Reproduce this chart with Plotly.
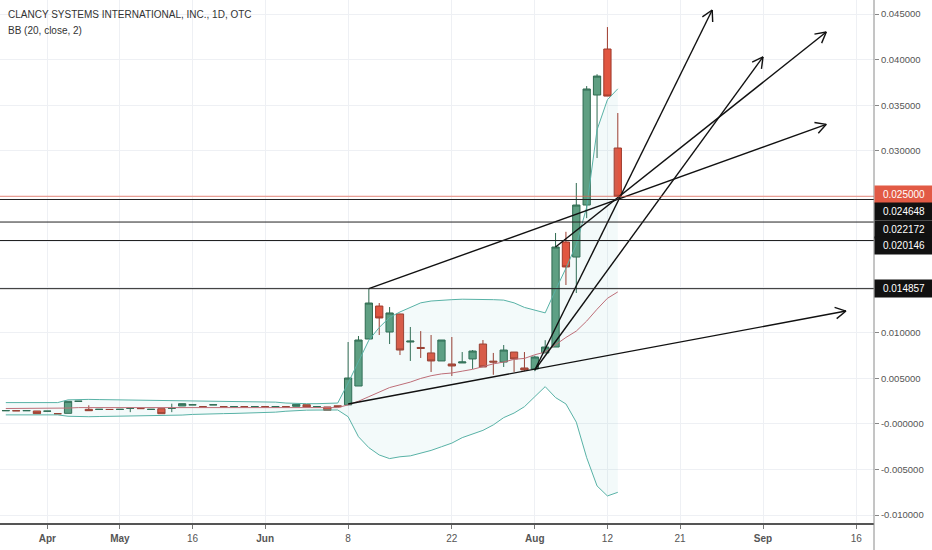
import numpy as np
import plotly.graph_objects as go

# CLANCY SYSTEMS (OTC), daily bars, Apr - Aug 13 2019; x is the bar index
bar_index = list(range(60))

opens = [
    0.00146, 0.00146, 0.00146, 0.00143, 0.00140, 0.00113, 0.00117, 0.00249, 0.00161, 0.00160,
    0.00160, 0.00160, 0.00170, 0.00170, 0.00160, 0.00168, 0.00170, 0.00198, 0.00210, 0.00190,
    0.00210, 0.00190, 0.00190, 0.00190, 0.00190, 0.00190, 0.00190, 0.00190, 0.00194, 0.00212,
    0.00190, 0.00187, 0.00200,
    0.00210, 0.00417, 0.00933, 0.01295, 0.01010, 0.01208, 0.00900, 0.00840, 0.00780,
    0.00692, 0.00659, 0.00670, 0.00714, 0.00878, 0.00690, 0.00680, 0.00790, 0.00615,
    0.00604, 0.00780, 0.00845, 0.01998, 0.01833, 0.02404, 0.03612, 0.04117, 0.03030]
highs = [
    0.00147, 0.00147, 0.00147, 0.00143, 0.00141, 0.00113, 0.00249, 0.00250, 0.00205, 0.00161,
    0.00161, 0.00161, 0.00171, 0.00171, 0.00161, 0.00168, 0.00223, 0.00223, 0.00211, 0.00190,
    0.00211, 0.00190, 0.00191, 0.00190, 0.00191, 0.00190, 0.00191, 0.00190, 0.00216, 0.00212,
    0.00191, 0.00187, 0.00200,
    0.00900, 0.00966, 0.014857, 0.01328, 0.01284, 0.01210, 0.01065, 0.01020, 0.00977,
    0.00922, 0.00955, 0.00790, 0.00812, 0.00922, 0.00780, 0.00867, 0.00790, 0.00790,
    0.00750, 0.00920, 0.02097, 0.02110, 0.02646, 0.03710, 0.03840, 0.04358, 0.03414]
lows = [
    0.00146, 0.00145, 0.00146, 0.00113, 0.00140, 0.00112, 0.00117, 0.00249, 0.00146, 0.00160,
    0.00159, 0.00160, 0.00130, 0.00169, 0.00160, 0.00113, 0.00130, 0.00198, 0.00210, 0.00189,
    0.00210, 0.00189, 0.00190, 0.00189, 0.00190, 0.00189, 0.00190, 0.00189, 0.00194, 0.00187,
    0.00190, 0.00150, 0.00190,
    0.00210, 0.00417, 0.00933, 0.00977, 0.00878, 0.00757, 0.00692, 0.00725, 0.00571,
    0.00692, 0.00527, 0.00670, 0.00604, 0.00626, 0.00540, 0.00626, 0.00571, 0.00580,
    0.00580, 0.00780, 0.00845, 0.01526, 0.01438, 0.02260, 0.02920, 0.03600, 0.02500]
closes = [
    0.00147, 0.00145, 0.00147, 0.00113, 0.00141, 0.00112, 0.00249, 0.00250, 0.00146, 0.00161,
    0.00159, 0.00161, 0.00171, 0.00169, 0.00161, 0.00113, 0.00171, 0.00223, 0.00211, 0.00189,
    0.00211, 0.00189, 0.00191, 0.00189, 0.00191, 0.00189, 0.00191, 0.00189, 0.00216, 0.00187,
    0.00191, 0.00150, 0.00190,
    0.00505, 0.00922, 0.01328, 0.01164, 0.01219, 0.00812, 0.00910, 0.00830, 0.00692,
    0.00922, 0.00637, 0.00681, 0.00801, 0.00626, 0.00680, 0.00812, 0.00714, 0.00593,
    0.00736, 0.00845, 0.01943, 0.01724, 0.02404, 0.03678, 0.03820, 0.03600, 0.02500]

# BB (20, close, 2)
bb_upper = [
    0.00235, 0.00235, 0.00235, 0.00235, 0.00235, 0.00235, 0.00265, 0.00270, 0.00270, 0.00268,
    0.00266, 0.00265, 0.00265, 0.00264, 0.00263, 0.00262, 0.00258, 0.00255, 0.00253, 0.00252,
    0.00252, 0.00251, 0.00250, 0.00248, 0.00246, 0.00244, 0.00240, 0.00230, 0.00224, 0.00223,
    0.00223, 0.00224, 0.00230,
    0.00450, 0.00680, 0.00920, 0.01060, 0.01170, 0.01230, 0.01280, 0.01330, 0.01350,
    0.01360, 0.01365, 0.01370, 0.01370, 0.01370, 0.01365, 0.01360, 0.01330, 0.01280,
    0.01250, 0.01220, 0.01470, 0.01710, 0.01970, 0.02380, 0.03230, 0.03560, 0.03680]
bb_basis = [
    0.00170, 0.00170, 0.00170, 0.00170, 0.00170, 0.00170, 0.00175, 0.00180, 0.00180, 0.00180,
    0.00180, 0.00180, 0.00180, 0.00180, 0.00180, 0.00178, 0.00178, 0.00180, 0.00182, 0.00182,
    0.00182, 0.00180, 0.00180, 0.00180, 0.00180, 0.00181, 0.00182, 0.00182, 0.00185, 0.00186,
    0.00186, 0.00184, 0.00180,
    0.00210, 0.00250, 0.00300, 0.00350, 0.00400, 0.00430, 0.00460, 0.00500, 0.00530,
    0.00550, 0.00560, 0.00580, 0.00600, 0.00630, 0.00660, 0.00680, 0.00710, 0.00720,
    0.00760, 0.00790, 0.00870, 0.00950, 0.01020, 0.01130, 0.01260, 0.01380, 0.01450]
bb_lower = [
    0.00100, 0.00100, 0.00100, 0.00100, 0.00100, 0.00100, 0.00085, 0.00080, 0.00080, 0.00082,
    0.00084, 0.00085, 0.00085, 0.00086, 0.00087, 0.00088, 0.00092, 0.00098, 0.00105, 0.00110,
    0.00112, 0.00114, 0.00116, 0.00118, 0.00120, 0.00124, 0.00130, 0.00140, 0.00150, 0.00152,
    0.00153, 0.00154, 0.00154,
    0.00080, -0.00140, -0.00260, -0.00340, -0.00380, -0.00360, -0.00350, -0.00320, -0.00290,
    -0.00250, -0.00210, -0.00150, -0.00110, -0.00070, -0.00010, 0.00070, 0.00120, 0.00190,
    0.00300, 0.00410, 0.00290, 0.00220, 0.00020, -0.00370, -0.00680, -0.00790, -0.00750]

# x axis labels (bar index where each date falls)
x_tick_pos = [4, 11, 18, 25, 33, 43, 51, 58, 65, 73, 82]
x_tick_labels = ["<b>Apr</b>", "<b>May</b>", "16", "<b>Jun</b>", "8", "22",
                 "<b>Aug</b>", "12", "21", "<b>Sep</b>", "16"]

y_tick_vals = [-0.010, -0.005, 0.0, 0.005, 0.010, 0.015, 0.020, 0.025, 0.030, 0.035, 0.040, 0.045]
y_tick_labels = ["-0.010000", "-0.005000", "-0.000000", "0.005000", "0.010000", "",
                 "", "", "0.030000", "0.035000", "0.040000", "0.045000"]

# horizontal levels drawn by hand, last price
levels = [0.024648, 0.022172, 0.020146, 0.014857]
level_label_shift = [-12, -7, -5, 0]
last_price = 0.025

# trend lines: (start bar, start price, end bar, end price, arrow at end)
trend_lines = [
    (35.0, 0.014857, 79.1, 0.03290, True),
    (53.0, 0.01943, 79.1, 0.04303, True),
    (51.0, 0.00593, 68.1, 0.04545, True),
    (51.0, 0.00593, 73.0, 0.04030, True),
    (33.0, 0.00220, 81.0, 0.01240, True),
]

X_RANGE = [-0.56, 83.7]
Y_RANGE = [-0.01087, 0.04655]
W, H = 932, 550
M_R, M_B = 58, 27
PX_X = (W - M_R) / (X_RANGE[1] - X_RANGE[0])
PX_Y = (H - M_B) / (Y_RANGE[1] - Y_RANGE[0])

FONT = "Liberation Sans, Arial, sans-serif"
BAND = "rgb(88,178,166)"

fig = go.Figure()

fig.add_trace(go.Scatter(x=bar_index, y=bb_upper, mode="lines",
                         line=dict(color=BAND, width=1), hoverinfo="skip"))
fig.add_trace(go.Scatter(x=bar_index, y=bb_lower, mode="lines", fill="tonexty",
                         fillcolor="rgba(88,178,186,0.07)",
                         line=dict(color=BAND, width=1), hoverinfo="skip"))
fig.add_trace(go.Scatter(x=bar_index, y=bb_basis, mode="lines",
                         line=dict(color="rgb(190,110,120)", width=1), hoverinfo="skip"))

fig.add_trace(go.Candlestick(
    x=bar_index, open=opens, high=highs, low=lows, close=closes,
    increasing=dict(fillcolor="#5f9f82", line=dict(color="#2f6a50", width=1)),
    decreasing=dict(fillcolor="#e15641", line=dict(color="#9e3a2c", width=1)),
    whiskerwidth=0))

# trend lines with open chevron arrowheads
for x0, y0, x1, y1, arrow in trend_lines:
    xs, ys = [x0, x1], [y0, y1]
    if arrow:
        dx = (x1 - x0) * PX_X
        dy = (y1 - y0) * PX_Y
        ang = np.arctan2(dy, dx)
        for a in (ang + np.pi - 0.5, ang + np.pi + 0.5):
            xs += [None, x1, x1 + 12 * np.cos(a) / PX_X]
            ys += [None, y1, y1 + 12 * np.sin(a) / PX_Y]
    fig.add_trace(go.Scatter(x=xs, y=ys, mode="lines",
                             line=dict(color="#111", width=1.4), hoverinfo="skip"))

shapes = []
shapes.append(dict(type="line", xref="paper", x0=0, x1=1, yref="y", y0=last_price, y1=last_price,
                   line=dict(color="rgba(225,90,70,0.7)", width=1)))
for lv in levels:
    shapes.append(dict(type="line", xref="paper", x0=0, x1=1, yref="y", y0=lv, y1=lv,
                       line=dict(color="#222", width=1)))
shapes.append(dict(type="line", xref="paper", x0=1, x1=1, yref="paper", y0=-0.06, y1=1,
                   line=dict(color="#8a8a8a", width=1)))

annotations = [
    dict(text="CLANCY SYSTEMS INTERNATIONAL, INC., 1D, OTC", xref="paper", yref="paper",
         x=0, y=1, xanchor="left", yanchor="top", xshift=6, yshift=-7, showarrow=False,
         font=dict(family=FONT, size=10, color="#333")),
    dict(text="BB (20, close, 2)", xref="paper", yref="paper",
         x=0, y=1, xanchor="left", yanchor="top", xshift=6, yshift=-23, showarrow=False,
         font=dict(family=FONT, size=10, color="#333")),
    dict(text=f"{last_price:.6f}", xref="paper", yref="y", x=1, y=last_price,
         xanchor="left", yanchor="middle", yshift=2, showarrow=False, width=56, height=15,
         bgcolor="#e25a45", font=dict(family=FONT, size=10, color="white")),
]
for lv, sh in zip(levels, level_label_shift):
    annotations.append(dict(text=f"{lv:.6f}", xref="paper", yref="y", x=1, y=lv,
                            xanchor="left", yanchor="middle", yshift=sh, showarrow=False,
                            width=56, height=15, bgcolor="#111",
                            font=dict(family=FONT, size=10, color="white")))

fig.update_layout(
    width=W, height=H, margin=dict(l=0, r=M_R, t=0, b=M_B),
    paper_bgcolor="white", plot_bgcolor="white", showlegend=False,
    font=dict(family=FONT, size=10, color="#555"),
    boxgap=0.3, boxgroupgap=0,
    shapes=shapes, annotations=annotations,
    xaxis=dict(range=X_RANGE, tickvals=x_tick_pos, ticktext=x_tick_labels,
               showgrid=True, gridcolor="#eef0f4", zeroline=False,
               showline=True, linecolor="#555", linewidth=2,
               ticks="outside", ticklen=4, tickcolor="#777", ticklabelstandoff=1,
               tickfont=dict(family=FONT, size=10, color="#555"),
               rangeslider=dict(visible=False), fixedrange=True),
    yaxis=dict(range=Y_RANGE, side="right", tickvals=y_tick_vals, ticktext=y_tick_labels,
               showgrid=True, gridcolor="#eef0f4", zeroline=False,
               showline=False, ticks="outside", ticklen=4, tickcolor="#888",
               tickfont=dict(family=FONT, size=9.5, color="#555")),
)

# the page has a default body margin; drop it so the chart sits at the window corner
fig.write_html("out.html", config={"displayModeBar": False},
               post_script="document.body.style.margin='0';")
